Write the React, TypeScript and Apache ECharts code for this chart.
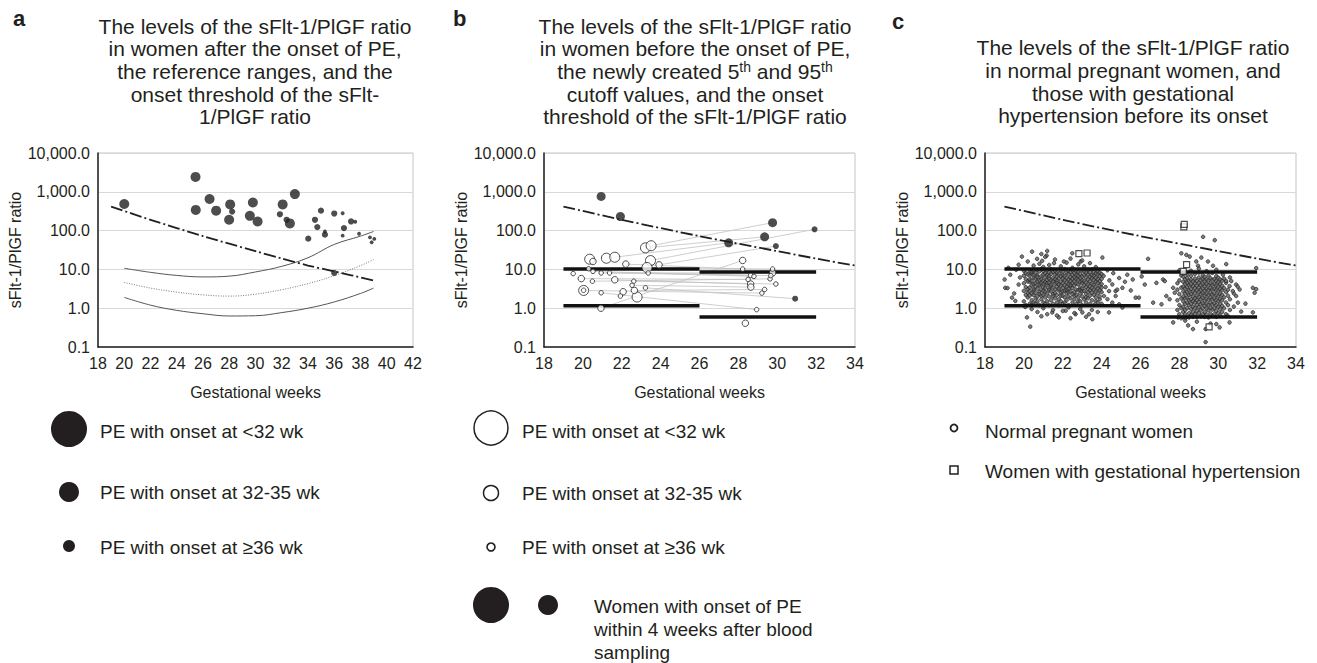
import React, { useEffect, useRef } from "react";
import * as echarts from "echarts";

const FONT = "'Liberation Sans', Arial, Helvetica, sans-serif";
const INK = "#231f20";

// ---------- shared ----------
const Y_NAME = "sFlt-1/PlGF ratio";
const X_NAME = "Gestational weeks";
const X_MAX_A = 42;
const X_MAX_BC = 34;
const THRESH_WEEKS = [19, 22, 26, 30, 32, 34, 36, 39];
const THRESH_VALUES = [417, 190, 72, 29.5, 19, 12.6, 8.9, 5.2];

// cutoff bars (5th / 95th) for two sampling periods
const PERIOD_1 = [19, 26];
const PERIOD_2 = [26, 32];
const P1_95 = 10.2;
const P1_5 = 1.15;
const P2_95 = 8.55;
const P2_5 = 0.59;

// ---------- panel a ----------
const A_LT32 = [
  [20.0, 485], [25.43, 2415], [25.45, 341], [26.5, 652], [27.0, 327], [28.07, 474],
  [27.99, 190], [29.8, 530], [29.57, 240], [30.16, 172], [32.07, 474], [33.0, 873], [32.62, 153],
];
const A_32_35 = [
  [28.22, 309], [31.86, 263], [32.37, 190], [34.02, 62], [34.53, 190], [34.71, 123],
  [34.99, 327], [35.29, 78.5], [36.0, 275], [36.74, 116], [37.28, 172], [36.0, 8.1],
];
const A_GE36 = [
  [35.29, 95], [36.64, 280], [36.64, 74], [37.6, 169], [37.89, 83], [38.72, 67], [39.05, 61], [38.85, 50],
];
const REF_WEEKS = [20, 22, 24, 26, 28, 30, 32, 34, 36, 38, 39];
const REF_UPPER = [10.7, 8.4, 7.0, 6.4, 6.7, 8.6, 12, 20, 44, 72, 95];
const REF_MEDIAN = [4.6, 3.3, 2.6, 2.2, 2.05, 2.3, 3.0, 4.3, 6.9, 12.5, 18];
const REF_LOWER = [1.9, 1.2, 0.88, 0.72, 0.63, 0.64, 0.77, 1.0, 1.45, 2.4, 3.3];

// ---------- panel b ----------
const B_OPEN_LT32 = [
  [20.35, 18.3], [21.21, 19.4], [21.64, 20.6], [23.22, 36], [23.51, 40.7], [23.48, 16.9],
  [23.3, 11.2], [20.04, 2.87], [22.79, 1.94],
];
const B_OPEN_32_35 = [
  [20.52, 16], [22.21, 13.7], [23.92, 13.1], [19.92, 5.8], [21.64, 5.4], [22.07, 2.65],
  [22.65, 2.87], [20.93, 1.0], [28.22, 17], [29.76, 8.1], [28.63, 4.2], [28.64, 3.5], [28.36, 0.41],
];
const B_OPEN_GE36 = [
  [20.3, 10.4], [19.5, 7.8], [20.52, 8.9], [20.94, 8.1], [21.37, 8.1], [20.49, 4.96], [20.94, 2.5],
  [21.93, 2.06], [22.62, 4.96], [22.53, 3.9], [23.22, 3.35], [23.36, 8.07], [20.04, 2.9],
  [28.22, 10.2], [29.76, 10.2], [28.63, 7.0], [28.8, 6.6], [28.5, 5.5], [29.63, 5.7], [29.67, 6.9],
  [29.93, 4.2], [29.35, 3.04], [29.21, 2.45], [28.94, 0.92],
];
const B_FILLED_BIG = [[20.94, 760], [21.93, 231], [27.5, 48.5], [29.35, 69], [29.76, 160]];
const B_FILLED_SMALL = [[29.93, 40], [31.92, 108], [30.92, 1.76]];
// paired samples: [week1, value1, week2, value2]
const B_PAIRS = [
  [23.51, 40.7, 29.76, 160], [23.22, 36, 29.35, 69], [21.64, 20.6, 27.5, 48.5],
  [23.48, 16.9, 31.92, 108], [23.92, 13.1, 29.93, 40], [20.93, 1.0, 28.22, 17],
  [22.21, 13.7, 28.22, 10.2], [23.3, 11.2, 29.76, 10.2], [20.94, 8.1, 29.76, 8.1],
  [21.37, 8.1, 28.63, 7.0], [20.52, 8.9, 28.8, 6.6], [23.36, 8.07, 29.67, 6.9],
  [19.92, 5.8, 28.5, 5.5], [20.49, 4.96, 29.63, 5.7], [21.64, 5.4, 28.63, 4.2],
  [22.62, 4.96, 29.93, 4.2], [22.53, 3.9, 28.64, 3.5], [23.22, 3.35, 30.92, 1.76],
  [22.65, 2.87, 29.35, 3.04], [20.04, 2.87, 29.21, 2.45], [20.94, 2.5, 28.94, 0.92],
];

// ---------- panel c ----------
const C_P1_CORE: [number, number[]][] = [
  [20.0, [1.5, 2.8, 4.4, 6.9, 9.2]],
  [20.1, [1.2, 2.2, 3.5, 5.6, 8.1]],
  [20.2, [1.9, 3.1, 4.9, 7.4, 2.5]],
  [20.3, [1.3, 2.1, 3.4, 4.8, 6.9, 9.1, 2.7, 5.5]],
  [20.4, [1.6, 2.4, 3.9, 7.8, 1.2, 5.1, 8.6]],
  [20.5, [1.4, 2.9, 4.2, 6.1, 9.5, 3.1, 2.2, 7.3]],
  [20.6, [1.8, 3.6, 5.8, 8.2, 2.5, 4.5, 1.3]],
  [20.7, [2.0, 3.2, 4.9, 7.0, 9.8, 1.5, 6.4]],
  [20.8, [1.2, 2.6, 3.8, 5.3, 8.9, 4.1, 2.3]],
  [20.9, [1.7, 3.0, 4.4, 6.6, 10.2, 2.1, 5.7]],
  [21.0, [1.4, 2.8, 3.5, 5.0, 7.5, 9.0, 4.2, 2.2]],
  [21.1, [1.9, 3.3, 4.7, 6.2, 8.0, 1.3, 2.6]],
  [21.2, [1.5, 2.4, 3.9, 5.4, 7.1, 9.6, 4.4]],
  [21.3, [1.2, 2.0, 3.1, 4.6, 6.8, 8.4, 2.9, 5.8]],
  [21.4, [1.6, 2.7, 3.7, 5.2, 7.7, 10.0, 4.0]],
  [21.5, [1.3, 2.3, 3.4, 4.9, 6.0, 8.7, 2.0]],
  [21.6, [1.8, 3.0, 4.3, 5.6, 7.4, 9.3, 2.5]],
  [21.7, [1.4, 2.2, 3.6, 5.1, 6.5, 8.1, 4.5]],
  [21.8, [1.7, 2.9, 4.1, 5.9, 7.9, 3.2, 1.2]],
  [21.9, [1.5, 2.5, 3.8, 4.8, 6.7, 9.4, 2.1]],
  [22.0, [1.3, 2.1, 3.3, 4.4, 5.7, 7.2, 8.8, 2.7]],
  [22.1, [1.9, 2.8, 3.9, 5.3, 6.9, 10.1, 1.4]],
  [22.2, [1.6, 2.4, 3.5, 4.6, 6.1, 8.3, 3.0]],
  [22.3, [1.2, 2.0, 3.1, 4.2, 5.5, 7.6, 9.2, 2.6]],
  [22.4, [1.8, 2.7, 3.7, 5.0, 6.4, 8.5, 4.0]],
  [22.5, [1.4, 2.3, 3.3, 4.5, 5.8, 7.3, 9.7]],
  [22.6, [1.7, 2.6, 3.8, 4.9, 6.3, 8.0, 2.1]],
  [22.7, [1.3, 2.2, 3.0, 4.3, 5.6, 7.0, 9.0]],
  [22.8, [1.9, 2.9, 4.1, 5.4, 6.8, 8.6, 1.5]],
  [22.9, [1.5, 2.4, 3.4, 4.7, 6.0, 7.8, 3.0]],
  [23.0, [1.2, 2.0, 3.2, 4.4, 5.2, 6.6, 9.5, 2.7]],
  [23.1, [1.7, 2.8, 3.9, 5.1, 7.2, 8.9]],
  [23.2, [1.4, 2.3, 3.5, 4.6, 6.2, 8.2, 1.9]],
  [23.3, [1.8, 2.6, 3.1, 4.1, 5.5, 7.5, 9.8]],
  [23.4, [1.3, 2.1, 3.7, 4.9, 6.4, 8.4, 2.9]],
  [23.5, [1.6, 2.5, 3.3, 4.3, 5.9, 7.1, 10.0]],
  [23.6, [1.2, 2.2, 3.0, 4.0, 5.3, 6.9, 8.7]],
  [23.7, [1.9, 2.7, 3.6, 4.8, 6.1, 7.9, 1.5]],
  [23.8, [1.4, 2.4, 3.2, 4.5, 5.6, 7.4, 9.1]],
  [23.9, [1.7, 2.0, 2.9, 3.8, 5.0, 6.7, 8.3]],
  [24.0, [1.3, 2.6, 3.4, 4.2, 5.7, 7.6]],
];
const C_P1_SPARSE = [
  [19.01, 5.5], [19.04, 3.35], [19.16, 3.3], [19.3, 7.3], [19.39, 1.87], [19.56, 1.54], [19.73, 4.07],
  [19.73, 13.2], [19.9, 21.4], [20.07, 1.08], [20.16, 0.58], [20.33, 0.335], [20.42, 28.7], [20.68, 18.7],
  [20.94, 16.6], [21.2, 29.9], [21.17, 22.7], [21.46, 0.78], [21.8, 0.58], [22.06, 16], [21.55, 14.5],
  [22.15, 0.86], [22.66, 0.7], [22.49, 26], [22.92, 16], [23.01, 0.78], [23.52, 0.52], [23.35, 0.7],
  [24.04, 20.2], [24.38, 0.78], [24.55, 4.1], [24.72, 2.76], [24.72, 2.06], [24.9, 6.0], [24.9, 1.26],
  [25.07, 3.35], [25.32, 7.3], [25.5, 2.87], [25.75, 1.87], [25.92, 1.87], [26.06, 6.6], [25.07, 1.04],
  [24.12, 2.06], [24.38, 2.76], [24.3, 1.7], [24.55, 1.39],
  [20.5, 12.5], [20.8, 14], [21.0, 11.5], [21.3, 13], [21.6, 18], [21.9, 12], [22.2, 15], [22.5, 11],
  [22.8, 13.5], [23.1, 12], [23.4, 14.5], [23.7, 11.5], [20.2, 16], [21.1, 21], [22.4, 19], [23.0, 17],
  [20.9, 25],
  [20.4, 0.95], [20.7, 0.8], [21.0, 1.0], [21.2, 0.7], [21.5, 0.9], [21.7, 0.65], [22.0, 0.85],
  [22.3, 1.05], [22.6, 0.75], [22.9, 0.95], [23.2, 0.6], [23.5, 0.9], [23.8, 0.8], [20.9, 0.62], [22.4, 0.55],
  [24.2, 3.5], [24.4, 5.2], [24.6, 8.0], [24.1, 6.8], [24.8, 3.0], [25.2, 4.8], [25.6, 5.5], [24.3, 9.5],
  [19.6, 9.8], [19.5, 2.4], [19.8, 6.2], [19.2, 11],
];
const C_P2_CORE: [number, number[]][] = [
  [27.9, [0.9, 1.6, 3.0, 4.4]],
  [28.0, [0.7, 1.2, 2.3, 5.2, 9.5]],
  [28.1, [0.55, 1.0, 1.8, 3.4, 7.0]],
  [28.2, [0.6, 0.8, 1.1, 1.5, 2.0, 2.7, 3.6, 4.8, 6.5, 8.0]],
  [28.3, [0.7, 0.9, 1.3, 1.8, 2.4, 3.2, 4.3, 5.6, 0.55]],
  [28.4, [0.6, 1.0, 1.4, 1.9, 2.6, 3.5, 4.6, 6.0, 7.4]],
  [28.5, [0.75, 1.2, 1.6, 2.2, 2.9, 3.9, 5.1, 0.58]],
  [28.6, [0.65, 0.95, 1.3, 1.7, 2.3, 3.1, 4.1, 5.4, 6.8]],
  [28.7, [0.8, 1.1, 1.5, 2.0, 2.7, 3.7, 4.9, 0.6]],
  [28.8, [0.7, 1.0, 1.4, 1.8, 2.5, 3.3, 4.4, 5.8, 7.6]],
  [28.9, [0.6, 0.85, 1.2, 1.6, 2.1, 2.9, 3.8, 5.0]],
  [29.0, [0.75, 1.05, 1.45, 1.95, 2.6, 3.4, 4.5, 6.2, 8.3]],
  [29.1, [0.62, 0.9, 1.25, 1.7, 2.3, 3.0, 4.0, 5.3]],
  [29.2, [0.7, 1.0, 1.35, 1.85, 2.45, 3.25, 4.3, 5.7, 7.1]],
  [29.3, [0.6, 0.8, 1.15, 1.55, 2.1, 2.8, 3.7, 4.9, 6.4]],
  [29.4, [0.68, 0.98, 1.3, 1.75, 2.35, 3.1, 4.2, 5.5]],
  [29.5, [0.58, 0.88, 1.2, 1.65, 2.2, 2.95, 3.9, 5.2, 7.0]],
  [29.6, [0.72, 1.02, 1.4, 1.9, 2.55, 3.35, 4.4, 5.9]],
  [29.7, [0.63, 0.92, 1.25, 1.7, 2.25, 3.05, 4.05, 5.4, 8.1]],
  [29.8, [0.7, 1.0, 1.35, 1.8, 2.4, 3.2, 4.25, 5.6]],
  [29.9, [0.6, 0.85, 1.18, 1.6, 2.15, 2.9, 3.8, 5.0, 6.7]],
  [30.0, [0.75, 1.08, 1.5, 2.0, 2.7, 3.6, 4.7, 6.1]],
  [30.1, [0.65, 0.95, 1.3, 1.75, 2.35, 3.15, 4.2, 5.5]],
  [30.2, [0.8, 1.15, 1.6, 2.2, 2.9, 3.8, 5.1]],
  [30.3, [1.0, 1.9, 3.3, 5.8]],
  [30.4, [0.7, 1.4, 2.6, 4.5]],
  [30.5, [1.2, 2.1, 3.0]],
  [30.6, [0.9, 1.7, 6.2]],
  [30.8, [1.1, 2.4]],
];
const C_P2_SPARSE = [
  [26.39, 18.7], [26.22, 4.07], [26.65, 1.39], [26.82, 4.5], [27.16, 5.5], [27.25, 5.0], [27.08, 1.26],
  [27.33, 2.06], [27.5, 1.7], [27.68, 3.35], [27.76, 2.5], [27.68, 0.43], [27.93, 0.58], [28.1, 26],
  [28.36, 23.6], [28.53, 21.4], [28.45, 0.36], [28.7, 0.29], [28.87, 16], [28.96, 12.4], [29.13, 20.2],
  [29.22, 69], [29.47, 16], [29.73, 12.4], [29.82, 56.7], [29.35, 0.29], [29.35, 0.134], [29.9, 0.39],
  [30.07, 0.32], [29.9, 9.8], [30.41, 13.7], [30.24, 7.3], [30.41, 5.0], [30.58, 3.7], [30.67, 5.0],
  [30.75, 2.76], [30.92, 4.07], [30.49, 0.64], [30.58, 0.43], [30.92, 2.06], [31.01, 1.39], [31.1, 3.04],
  [31.18, 0.82], [31.4, 1.31], [31.78, 3.35], [31.87, 2.5], [31.95, 3.1], [31.95, 10.8], [31.78, 0.78],
  [31.0, 3.6], [28.9, 0.45], [29.6, 0.4], [28.3, 0.48], [29.0, 10.5], [28.6, 9.2], [29.4, 9.0],
];
const C_GH = [[22.83, 25.5], [23.25, 26.5], [28.37, 13.2], [28.23, 125], [28.25, 145], [29.53, 0.33], [28.2, 8.9]];

// ---------- texts ----------
const TITLE_A = [
  "The levels of the sFlt-1/PlGF ratio",
  "in women after the onset of PE,",
  "the reference ranges, and the",
  "onset threshold of the sFlt-",
  "1/PlGF ratio",
];
const TITLE_B = [
  "The levels of the sFlt-1/PlGF ratio",
  "in women before the onset of PE,",
  "{n|the newly created 5}{s|th}{n| and 95}{s|th}",
  "cutoff values, and the onset",
  "threshold of the sFlt-1/PlGF ratio",
];
const TITLE_C = [
  "The levels of the sFlt-1/PlGF ratio",
  "in normal pregnant women, and",
  "those with gestational",
  "hypertension before its onset",
];

const flatCols = (cols: [number, number[]][]) =>
  cols.flatMap(([w, vals]) => vals.map((v) => [w, v]));

const fmt = (v: number) =>
  (Math.round(v * 10) / 10).toLocaleString("en-US", { minimumFractionDigits: 1, maximumFractionDigits: 1 });

function xAxis(gridIndex: number, max: number) {
  return {
    type: "value", gridIndex, min: 18, max, interval: 2,
    axisLine: { show: true, onZero: false, lineStyle: { color: INK, width: 1.5 } },
    axisTick: { show: false },
    splitLine: { show: false },
    axisLabel: { fontSize: 16, color: INK, fontFamily: FONT, margin: 8 },
    name: X_NAME, nameLocation: "middle", nameGap: 37,
    nameTextStyle: { fontSize: 16, color: INK, fontFamily: FONT },
  };
}
function yAxis(gridIndex: number) {
  return {
    type: "log", logBase: 10, gridIndex, min: 0.1, max: 10000,
    axisLine: { show: true, onZero: false, lineStyle: { color: INK, width: 1.5 } },
    axisTick: { show: false },
    splitLine: { show: true, lineStyle: { color: "#d9d9d9", width: 1 } },
    axisLabel: { fontSize: 16, color: INK, fontFamily: FONT, margin: 8, formatter: fmt },
    name: Y_NAME, nameLocation: "middle", nameGap: 66,
    nameTextStyle: { fontSize: 16, color: INK, fontFamily: FONT },
  };
}
function lineSeries(i: number, data: number[][], lineStyle: any, extra: any = {}) {
  return {
    type: "line", xAxisIndex: i, yAxisIndex: i, data, symbol: "none", silent: true,
    lineStyle, ...extra,
  };
}
function scatter(i: number, data: number[][], size: number, itemStyle: any, symbol = "circle") {
  return { type: "scatter", xAxisIndex: i, yAxisIndex: i, data, symbol, symbolSize: size, itemStyle, silent: true };
}
const threshold = (i: number) =>
  lineSeries(i, THRESH_WEEKS.map((w, k) => [w, THRESH_VALUES[k]]),
    { color: INK, width: 1.8, type: [12, 3, 2, 3] }, { smooth: 0.3, z: 5 });
const cutBars = (i: number) => [
  lineSeries(i, [[PERIOD_1[0], P1_95], [PERIOD_1[1], P1_95]], { color: "#111", width: 3.5 }, { z: 4 }),
  lineSeries(i, [[PERIOD_1[0], P1_5], [PERIOD_1[1], P1_5]], { color: "#111", width: 3.5 }, { z: 4 }),
  lineSeries(i, [[PERIOD_2[0], P2_95], [PERIOD_2[1], P2_95]], { color: "#111", width: 3.5 }, { z: 4 }),
  lineSeries(i, [[PERIOD_2[0], P2_5], [PERIOD_2[1], P2_5]], { color: "#111", width: 3.5 }, { z: 4 }),
];

function titleLines(lines: string[], cx: number, y0: number) {
  return lines.map((t, k) => ({
    type: "text", x: cx, y: y0 + k * 22.7, silent: true,
    style: {
      text: t, fontSize: 21, fontFamily: FONT, fill: INK, align: "center", verticalAlign: "middle",
      rich: {
        n: { fontSize: 21, fontFamily: FONT, fill: INK, lineHeight: 23 },
        s: { fontSize: 14, fontFamily: FONT, fill: INK, lineHeight: 8, verticalAlign: "top" },
      },
    },
  }));
}
const txt = (t: string, x: number, y: number, size = 19, extra: any = {}) => ({
  type: "text", x, y, silent: true,
  style: { text: t, fontSize: size, fontFamily: FONT, fill: INK, align: "left", verticalAlign: "middle", ...extra },
});
const circ = (cx: number, cy: number, r: number, filled: boolean, lw = 1.5) => ({
  type: "circle", silent: true, shape: { cx, cy, r },
  style: filled ? { fill: INK } : { fill: "#fff", stroke: INK, lineWidth: lw },
});

export default function App() {
  const ref = useRef<HTMLDivElement>(null);
  useEffect(() => {
    document.body.style.margin = "0";
    const chart = echarts.init(ref.current!, null, { renderer: "svg" });
    const gridBase = { show: true, borderColor: "#c4c4c4", borderWidth: 1, top: 153, height: 194 };
    const openStyle = { color: "#fff", borderColor: INK, borderWidth: 1 };
    const option: any = {
      animation: false,
      backgroundColor: "#fff",
      grid: [
        { ...gridBase, left: 98, width: 315 },
        { ...gridBase, left: 544, width: 311 },
        { ...gridBase, left: 985, width: 311 },
      ],
      xAxis: [xAxis(0, X_MAX_A), xAxis(1, X_MAX_BC), xAxis(2, X_MAX_BC)],
      yAxis: [yAxis(0), yAxis(1), yAxis(2)],
      series: [
        // panel a
        lineSeries(0, REF_WEEKS.map((w, k) => [w, REF_UPPER[k]]), { color: "#555", width: 1 }, { smooth: 0.4 }),
        lineSeries(0, REF_WEEKS.map((w, k) => [w, REF_MEDIAN[k]]), { color: "#777", width: 1, type: [1, 1.5] }, { smooth: 0.4 }),
        lineSeries(0, REF_WEEKS.map((w, k) => [w, REF_LOWER[k]]), { color: "#555", width: 1 }, { smooth: 0.4 }),
        threshold(0),
        scatter(0, A_LT32, 10, { color: INK }),
        scatter(0, A_32_35, 6.2, { color: INK }),
        scatter(0, A_GE36, 3.8, { color: INK }),
        // panel b
        ...B_PAIRS.map((p) => lineSeries(1, [[p[0], p[1]], [p[2], p[3]]], { color: "#c2c2c2", width: 0.8 })),
        ...cutBars(1),
        threshold(1),
        { ...scatter(1, B_OPEN_LT32, 10, openStyle), z: 6 },
        { ...scatter(1, B_OPEN_32_35, 6.5, openStyle), z: 6 },
        { ...scatter(1, B_OPEN_GE36, 4.5, openStyle), z: 6 },
        { ...scatter(1, B_FILLED_BIG, 9, { color: INK }), z: 6 },
        { ...scatter(1, B_FILLED_SMALL, 6, { color: INK }), z: 6 },
        // panel c
        { ...scatter(2, [...flatCols(C_P1_CORE), ...C_P1_SPARSE, ...flatCols(C_P2_CORE), ...C_P2_SPARSE], 3.6,
          { color: "#5e5e5e", borderColor: "#262626", borderWidth: 0.9 }), z: 3 },
        ...cutBars(2),
        threshold(2),
        { ...scatter(2, C_GH, 6, { color: "#fff", borderColor: INK, borderWidth: 1.2 }, "rect"), z: 6 },
      ],
      graphic: [
        txt("a", 13, 18.5, 22, { fontWeight: "bold" }),
        txt("b", 453, 18.5, 22, { fontWeight: "bold" }),
        txt("c", 892, 21, 22, { fontWeight: "bold" }),
        ...titleLines(TITLE_A, 255, 26),
        ...titleLines(TITLE_B, 695, 26),
        ...titleLines(TITLE_C, 1133, 47.7),
        // legend a
        circ(69, 429, 18, true), txt("PE with onset at <32 wk", 100, 431),
        circ(69, 492, 10, true), txt("PE with onset at 32-35 wk", 100, 492.5),
        circ(69, 546, 6, true), txt("PE with onset at \u226536 wk", 100, 547),
        // legend b
        circ(491, 428, 17, false), txt("PE with onset at <32 wk", 522, 431),
        circ(491, 493, 7.5, false), txt("PE with onset at 32-35 wk", 522, 493),
        circ(491, 547, 4, false, 1.6), txt("PE with onset at \u226536 wk", 522, 547),
        circ(491, 605, 18, true), circ(548, 605, 10, true),
        txt("Women with onset of PE", 594, 606),
        txt("within 4 weeks after blood", 594, 629),
        txt("sampling", 594, 652),
        // legend c
        circ(954, 428, 3.5, false, 1.8), txt("Normal pregnant women", 985, 431),
        { type: "rect", silent: true, shape: { x: 950, y: 466, width: 8, height: 8 },
          style: { fill: "#fff", stroke: INK, lineWidth: 1.5 } },
        txt("Women with gestational hypertension", 985, 471),
      ],
    };
    chart.setOption(option);
    return () => chart.dispose();
  }, []);
  return <div ref={ref} style={{ width: 1317, height: 663 }} />;
}
